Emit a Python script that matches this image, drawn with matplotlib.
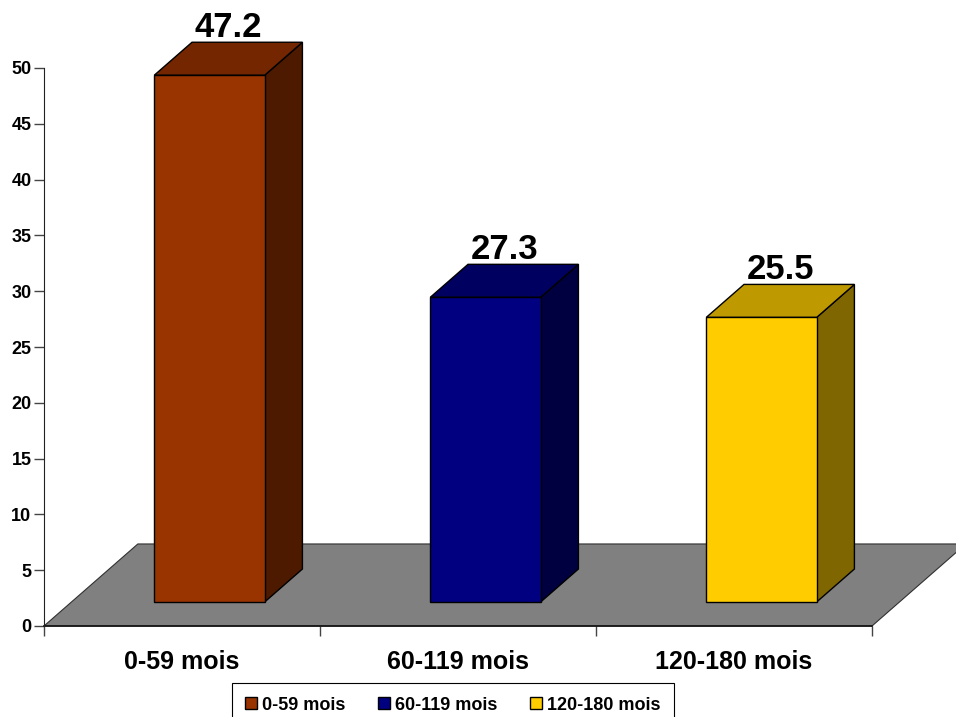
import matplotlib
matplotlib.use("Agg")
import matplotlib.pyplot as plt
from matplotlib.patches import Polygon, Patch

plt.rcParams['font.family'] = ['Liberation Sans', 'DejaVu Sans']
plt.rcParams['font.weight'] = 'bold'

# data
categories = ["0-59 mois", "60-119 mois", "120-180 mois"]
values = [47.2, 27.3, 25.5]
labels = ["47.2", "27.3", "25.5"]
front_colors = ["#993300", "#000080", "#FFCC00"]
top_colors = ["#732600", "#000060", "#BF9900"]
side_colors = ["#4D1A00", "#000040", "#806600"]

# 3D look (depth of the floor, in data units)
depth_x, depth_y = 0.34, 7.35
f_front, f_back = 0.293, 0.695
half_w = 0.2

fig = plt.figure(figsize=(9.56, 7.17), dpi=100)
ax = fig.add_axes([44 / 956, (717 - 626) / 717, (872 - 44) / 956, (626 - 68) / 717])
ax.set_xlim(0, 3)
ax.set_ylim(0, 50)

# floor
floor = Polygon([(0, 0), (3, 0), (3 + depth_x, depth_y), (depth_x, depth_y)],
                closed=True, facecolor="#808080", edgecolor="#303030",
                linewidth=0.8, clip_on=False, zorder=1)
ax.add_patch(floor)

for i, v in enumerate(values):
    c = i + 0.5
    xl, xr = c - half_w, c + half_w
    x0, y0 = f_front * depth_x, f_front * depth_y
    x1, y1 = f_back * depth_x, f_back * depth_y
    front = [(xl + x0, y0), (xr + x0, y0), (xr + x0, y0 + v), (xl + x0, y0 + v)]
    top = [(xl + x0, y0 + v), (xr + x0, y0 + v), (xr + x1, y1 + v), (xl + x1, y1 + v)]
    side = [(xr + x0, y0), (xr + x1, y1), (xr + x1, y1 + v), (xr + x0, y0 + v)]
    for pts, col in ((side, side_colors[i]), (top, top_colors[i]), (front, front_colors[i])):
        ax.add_patch(Polygon(pts, closed=True, facecolor=col, edgecolor="black",
                             linewidth=1.0, clip_on=False, zorder=3))
    ax.text(c + (x0 + x1) / 2, y1 + v + 0.5, labels[i], ha="center", va="baseline",
            fontsize=25, fontweight="bold", color="black", clip_on=False, zorder=4)

for s in ("top", "right"):
    ax.spines[s].set_visible(False)
ax.spines["left"].set_color("#222222")
ax.spines["bottom"].set_color("#111111")
ax.spines["bottom"].set_linewidth(1.2)
ax.spines["bottom"].set_zorder(2)

ax.set_yticks(range(0, 51, 5))
ax.tick_params(axis="y", length=7, width=1, color="#444444", pad=2, labelsize=13)
for t in ax.get_yticklabels():
    t.set_fontweight("bold")

ax.set_xticks([0, 1, 2, 3])
ax.set_xticklabels([])
ax.tick_params(axis="x", which="major", length=7.5, width=1, color="#444444")
ax.set_xticks([0.5, 1.5, 2.5], minor=True)
ax.set_xticklabels(categories, minor=True, fontsize=18, fontweight="bold")
ax.tick_params(axis="x", which="minor", length=0, pad=17.5)

handles = [Patch(facecolor=c, edgecolor="black", linewidth=1) for c in front_colors]
leg = fig.legend(handles, categories, loc="upper center", ncol=3,
                 bbox_to_anchor=(453 / 956, 1 - 683 / 717), borderaxespad=0,
                 prop={"size": 13, "weight": "bold"}, fancybox=False,
                 handlelength=0.65, handleheight=0.65, handletextpad=0.3,
                 columnspacing=1.8, borderpad=0.75, framealpha=1)
leg.get_frame().set_edgecolor("black")
leg.get_frame().set_linewidth(0.8)

fig.savefig("out.png", dpi=100)
